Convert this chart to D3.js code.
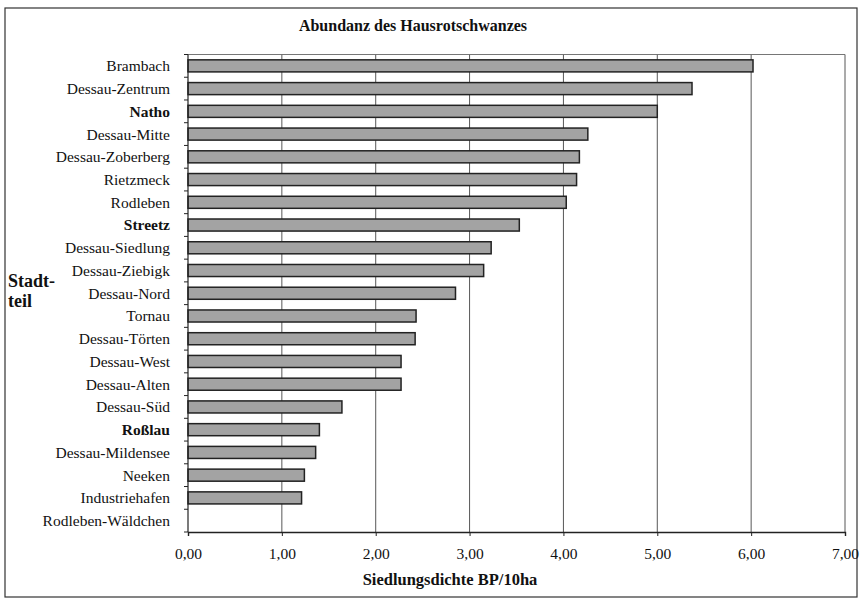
<!DOCTYPE html>
<html>
<head>
<meta charset="utf-8">
<script src="https://cdn.jsdelivr.net/npm/d3@7"></script>
<style>
  body { margin: 0; background: #fff; }
  svg text { font-family: "Liberation Serif", "Times New Roman", "DejaVu Serif", serif; fill: #111; }
</style>
</head>
<body>
<div id="chart"></div>
<script>
// Stadtteile, from top to bottom
const districts = [
  "Brambach", "Dessau-Zentrum", "Natho", "Dessau-Mitte", "Dessau-Zoberberg",
  "Rietzmeck", "Rodleben", "Streetz", "Dessau-Siedlung", "Dessau-Ziebigk",
  "Dessau-Nord", "Tornau", "Dessau-Törten", "Dessau-West", "Dessau-Alten",
  "Dessau-Süd", "Roßlau", "Dessau-Mildensee", "Neeken", "Industriehafen",
  "Rodleben-Wäldchen"
];
// Siedlungsdichte BP/10ha
const density = [
  6.02, 5.37, 5.00, 4.26, 4.17,
  4.14, 4.03, 3.53, 3.23, 3.15,
  2.85, 2.43, 2.42, 2.27, 2.27,
  1.64, 1.40, 1.36, 1.24, 1.21,
  0
];
// labels shown in bold
const boldDistricts = ["Natho", "Streetz", "Roßlau"];
const xTicks = [0, 1, 2, 3, 4, 5, 6, 7];

const data = districts.map((d, i) => ({ name: d, value: density[i] }));

const W = 863, H = 604;
const margin = { top: 54.5, right: 18, bottom: 72, left: 188 };
const width = W - margin.left - margin.right;
const height = H - margin.top - margin.bottom;

const root = d3.select("#chart").append("svg")
    .attr("width", W)
    .attr("height", H);

// outer frame
root.append("rect")
    .attr("x", 5).attr("y", 8)
    .attr("width", 852).attr("height", 589)
    .attr("fill", "none")
    .attr("stroke", "#333")
    .attr("stroke-width", 1.2);

const svg = root.append("g")
    .attr("transform", `translate(${margin.left},${margin.top})`);

const x = d3.scaleLinear().domain([0, 7]).range([0, width]);
const y = d3.scaleBand().domain(districts).range([0, height]).paddingInner(0.47).paddingOuter(0.235);

// gridlines
svg.append("g")
    .selectAll("line")
    .data(xTicks.slice(1))
    .enter()
    .append("line")
    .attr("x1", d => x(d)).attr("x2", d => x(d))
    .attr("y1", 0).attr("y2", height)
    .attr("stroke", "#444")
    .attr("stroke-width", 0.9);

// top border of plot
svg.append("line")
    .attr("x1", 0).attr("x2", width)
    .attr("y1", 0).attr("y2", 0)
    .attr("stroke", "#666")
    .attr("stroke-width", 0.9);

// bars
svg.selectAll(".bar")
    .data(data.filter(d => d.value > 0))
    .enter()
    .append("rect")
    .attr("class", "bar")
    .attr("x", 0)
    .attr("y", d => y(d.name))
    .attr("width", d => x(d.value))
    .attr("height", y.bandwidth())
    .attr("fill", "#a3a3a3")
    .attr("stroke", "#222")
    .attr("stroke-width", 1.5);

// x axis
const xAxis = svg.append("g")
    .attr("transform", `translate(0,${height})`)
    .call(d3.axisBottom(x).tickValues(xTicks).tickSize(4).tickPadding(12)
        .tickFormat(d => d3.format(".2f")(d).replace(".", ",")));
xAxis.select(".domain").attr("stroke", "#222").attr("stroke-width", 1.4);
xAxis.selectAll("line").attr("stroke", "#222");
xAxis.selectAll("text").style("font-size", "15.5px");

// y axis: ticks sit on the category boundaries
const yAxisG = svg.append("g");
yAxisG.append("line")
    .attr("x1", 0).attr("x2", 0)
    .attr("y1", 0).attr("y2", height)
    .attr("stroke", "#222").attr("stroke-width", 1.2);
yAxisG.selectAll(".ytick")
    .data(d3.range(districts.length + 1))
    .enter()
    .append("line")
    .attr("x1", -4).attr("x2", 0)
    .attr("y1", i => i * height / districts.length)
    .attr("y2", i => i * height / districts.length)
    .attr("stroke", "#222");

yAxisG.selectAll(".ylabel")
    .data(districts)
    .enter()
    .append("text")
    .attr("x", -18)
    .attr("y", d => y(d) + y.bandwidth() / 2)
    .attr("dy", "0.35em")
    .attr("text-anchor", "end")
    .style("font-size", "15.5px")
    .style("font-weight", d => boldDistricts.includes(d) ? "bold" : "normal")
    .text(d => d);

// axis titles
root.append("text")
    .attr("x", 450).attr("y", 585)
    .attr("text-anchor", "middle")
    .style("font-size", "16.5px")
    .style("font-weight", "bold")
    .text("Siedlungsdichte BP/10ha");

const yTitle = root.append("text")
    .attr("x", 8).attr("y", 287)
    .style("font-size", "18px")
    .style("font-weight", "bold");
yTitle.append("tspan").attr("x", 8).text("Stadt-");
yTitle.append("tspan").attr("x", 8).attr("dy", 20).text("teil");

// chart title
root.append("text")
    .attr("x", 413).attr("y", 30.5)
    .attr("text-anchor", "middle")
    .style("font-size", "16px")
    .style("font-weight", "bold")
    .text("Abundanz des Hausrotschwanzes");
</script>
</body>
</html>
